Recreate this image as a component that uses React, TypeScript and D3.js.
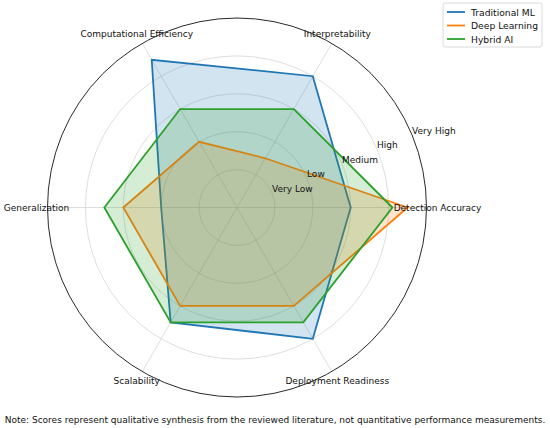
import React from 'react';
import * as d3 from 'd3';

const categories = [
  'Detection Accuracy',
  'Interpretability',
  'Computational Efficiency',
  'Generalization',
  'Scalability',
  'Deployment Readiness',
];
const levelLabels = ['Very Low', 'Low', 'Medium', 'High', 'Very High'];
const levelValues = [1, 2, 3, 4, 5];

const traditionalML = [3, 4, 4.5, 2, 3.5, 4];
const deepLearning = [4.5, 1.5, 2, 3, 3, 3];
const hybridAI = [4.1, 3, 3, 3.5, 3.5, 3.5];

const seriesNames = ['Traditional ML', 'Deep Learning', 'Hybrid AI'];
const seriesColors = ['#1f77b4', '#ff7f0e', '#2ca02c'];

const note =
  'Note: Scores represent qualitative synthesis from the reviewed literature, not quantitative performance measurements.';

const W = 550;
const H = 428;
const cx = 237;
const cy = 207.5;
const R = 189.5;
const FONT = 'DejaVu Sans, sans-serif';

export default function App() {
  const series = [traditionalML, deepLearning, hybridAI];
  const r = d3.scaleLinear().domain([0, 5]).range([0, R]);
  // matplotlib angle (ccw from 3 o'clock) -> d3 radial angle (cw from 12 o'clock)
  const theta = (i: number) => (i * 2 * Math.PI) / categories.length;
  const toD3 = (t: number) => Math.PI / 2 - t;

  const radial = d3
    .lineRadial<number>()
    .angle((_, i) => toD3(theta(i)))
    .radius((d) => r(d))
    .curve(d3.curveLinearClosed);

  const pt = (t: number, rad: number) => [cx + rad * Math.cos(t), cy - rad * Math.sin(t)];

  const labelAngle = (22.5 * Math.PI) / 180;

  return (
    <svg
      width={W}
      height={H}
      style={{ position: 'absolute', left: 0, top: 0, background: '#fff' }}
      fontFamily={FONT}
    >
      {/* grid circles */}
      {levelValues.slice(0, -1).map((v) => (
        <circle key={v} cx={cx} cy={cy} r={r(v)} fill="none" stroke="#d6d6d6" strokeWidth={0.8} />
      ))}
      {/* spokes */}
      {categories.map((c, i) => {
        const [x, y] = pt(theta(i), R);
        return <line key={c} x1={cx} y1={cy} x2={x} y2={y} stroke="#d6d6d6" strokeWidth={0.8} />;
      })}
      {/* outer spine */}
      <circle cx={cx} cy={cy} r={R} fill="none" stroke="#111" strokeWidth={0.9} />

      {/* series */}
      <g transform={`translate(${cx},${cy})`}>
        {series.map((s, k) => (
          <g key={seriesNames[k]}>
            <path d={radial(s) || ''} fill="none" stroke={seriesColors[k]} strokeWidth={1.8} strokeLinejoin="miter" />
            <path d={radial(s) || ''} fill={seriesColors[k]} fillOpacity={0.2} stroke="none" />
          </g>
        ))}
      </g>

      {/* radial labels */}
      {levelValues.map((v, i) => {
        const [x, y] = pt(labelAngle, r(v));
        return (
          <text key={v} x={x} y={y - 4} fontSize={9} fill="#111" dominantBaseline="central" textAnchor="start">
            {levelLabels[i]}
          </text>
        );
      })}

      {/* category labels */}
      {categories.map((c, i) => {
        const [x, y] = pt(theta(i), R + 11);
        return (
          <text key={c} x={x} y={y} fontSize={9} fill="#111" textAnchor="middle" dominantBaseline="central">
            {c}
          </text>
        );
      })}

      {/* legend */}
      <g transform="translate(443,3)">
        <rect x={0} y={0} width={99} height={44} rx={2} fill="#fff" fillOpacity={0.8} stroke="#d0d0d0" strokeWidth={0.8} />
        {seriesNames.map((n, k) => (
          <g key={n} transform={`translate(0,${9 + k * 13.5})`}>
            <line x1={4} x2={22} y1={0} y2={0} stroke={seriesColors[k]} strokeWidth={1.8} />
            <text x={28} y={0} fontSize={9.2} fill="#111" dominantBaseline="central">
              {n}
            </text>
          </g>
        ))}
      </g>

      {/* note */}
      <text x={W / 2} y={420} fontSize={9} fill="#111" textAnchor="middle" dominantBaseline="central">
        {note}
      </text>
    </svg>
  );
}
